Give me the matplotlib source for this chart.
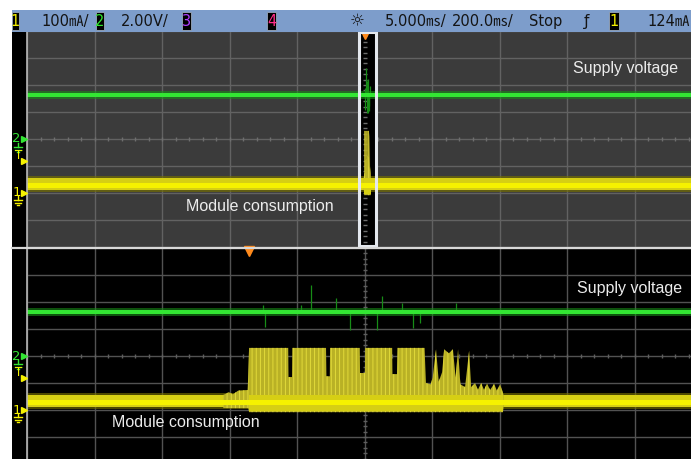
import numpy as np
import matplotlib
matplotlib.use("Agg")
import matplotlib.pyplot as plt
from matplotlib.ticker import MultipleLocator
from matplotlib.patches import Rectangle
from matplotlib.lines import Line2D

W, H = 691, 459

# ---- scope settings ----
ch1_per_div = 100.0      # mA/div
ch2_per_div = 2.0        # V/div
ch1_offset_div = -2.0    # ch1 ground position, divisions from centre
ch2_offset_div = 0.0     # ch2 ground position
main_per_div = 200.0     # ms/div (upper, main timebase)
zoom_per_div = 5.0       # ms/div (lower, zoomed timebase)
zoom_centre = 8.55       # ms after trigger at the centre of the zoom window
trig_level = 124.0       # mA

# ---- channel 2: supply voltage (V) ----
supply_v = 3.28
supply_core = 0.15
supply_halo = 0.30
spike_t = [1.04, 1.19, 3.85, 4.6, 6.44, 7.48, 9.48, 9.85, 11.33, 12.15, 12.67, 15.33]
spike_v = [3.78, 2.15, 3.78, 5.26, 4.3, 1.93, 1.93, 4.44, 3.93, 2.07, 2.44, 3.93]

# ---- channel 1: module consumption (mA) ----
idle_halo = [4, 62]
idle_band = [11, 55]
idle_core = [18, 37]
burst_t = [-1.9, -1.5, -1.2, -0.8, -0.1, 0.0, 2.9, 2.92, 3.18, 3.2, 5.7, 5.72,
           5.98, 6.0, 8.2, 8.22, 8.58, 8.6, 10.6, 10.62, 10.96, 11.0, 13.0,
           13.1, 13.45, 13.6, 13.85, 14.05, 14.3, 14.45, 14.8, 15.1, 15.3,
           15.48, 15.65, 16.0, 16.3, 16.45, 16.74, 16.95, 17.19, 17.4, 17.63,
           17.85, 18.15, 18.35, 18.59, 18.78, 18.85]
burst_top = [56, 66, 58, 72, 74, 230, 230, 122, 122, 230, 230, 125,
             125, 230, 230, 137, 137, 230, 230, 133, 133, 230, 230,
             100, 95, 120, 225, 105, 140, 225, 210, 225, 120,
             225, 95, 85, 220, 85, 100, 75, 100, 75, 98,
             74, 97, 72, 95, 68, 56]
burst_floor_t = [-1.9, -0.05, 0.0, 18.8, 18.85]
burst_floor = [7, 7, -8, -8, 7]
burst_core_t = [0.0, 18.8]
burst_core = [-4, 54]

# ---- colours ----
GREEN = "#33E633"
GREEN_DIM = "#178C17"
YEL_CORE = "#F6F200"
YEL_BAND = "#D6CF14"
YEL_BODY = "#B9B125"
YEL_STREAK = "#E2DA3A"
YEL_HALO = "#767000"
ORANGE = "#FF8A1C"

plt.rcParams["hatch.linewidth"] = 0.7

fig = plt.figure(figsize=(W / 100, H / 100), dpi=100)
fig.patch.set_facecolor("white")


def fxy(x, y):
    return x / W, 1 - y / H


panel_left, panel_right = 27, 691
px_per_div = 67.5
n_div_x = (panel_right - panel_left) / px_per_div


def make_panel(top, bot, face, grid_col, tick_col, centre, per_div):
    ax = fig.add_axes([panel_left / W, 1 - bot / H,
                       (panel_right - panel_left) / W, (bot - top) / H])
    ax.set_facecolor(face)
    ax.set_xlim(centre - 5 * per_div, centre + (n_div_x - 5) * per_div)
    ax.set_ylim((-4 - ch2_offset_div) * ch2_per_div, (4 - ch2_offset_div) * ch2_per_div)
    ax.xaxis.set_major_locator(MultipleLocator(per_div, offset=centre))
    ax.yaxis.set_major_locator(MultipleLocator(ch2_per_div))
    ax.set_axisbelow(True)
    ax.grid(True, color=grid_col, lw=1.0)
    ax.tick_params(length=0, labelleft=False, labelbottom=False)
    for s in ax.spines.values():
        s.set_visible(False)
    # fine tick marks along the two centre lines
    xt = centre + np.arange(-25, 26) * per_div / 5
    ax.plot(xt, np.zeros_like(xt), ls="none", marker="|", ms=3, color=tick_col,
            mew=1, zorder=1.2)
    yt = np.arange(-20, 21) * ch2_per_div / 5
    ax.plot(np.full_like(yt, centre), yt, ls="none", marker="_", ms=3, color=tick_col,
            mew=1, zorder=1.2)

    ax1 = ax.twinx()
    ax1.set_ylim((-4 - ch1_offset_div) * ch1_per_div, (4 - ch1_offset_div) * ch1_per_div)
    ax1.tick_params(length=0, labelright=False)
    for s in ax1.spines.values():
        s.set_visible(False)
    return ax, ax1


def draw_traces(ax, ax1):
    x0, x1 = ax.get_xlim()
    # channel 2
    ax.fill_between([x0, x1], supply_v - supply_halo, supply_v + supply_halo,
                    color=GREEN_DIM, alpha=0.6, lw=0, zorder=2)
    ax.vlines(spike_t, supply_v, spike_v, color=GREEN_DIM, lw=0.9, zorder=2.2)
    ax.fill_between([x0, x1], supply_v - supply_core, supply_v + supply_core,
                    color=GREEN, lw=0, zorder=2.5)
    # channel 1
    ax1.fill_between([x0, x1], *idle_halo, color=YEL_HALO, alpha=0.65, lw=0, zorder=2)
    ax1.fill_between([x0, x1], *idle_band, color=YEL_BAND, lw=0, zorder=2.1)
    ax1.fill(np.r_[burst_t, burst_floor_t[::-1]], np.r_[burst_top, burst_floor[::-1]],
             facecolor=YEL_BODY, edgecolor=YEL_STREAK, hatch="||||", lw=0, zorder=2.3)
    ax1.fill_between(burst_core_t, *burst_core, color=YEL_BAND, lw=0, zorder=2.4)
    ax1.fill_between([x0, x1], *idle_core, color=YEL_CORE, lw=0, zorder=2.5)


# ---- panels: main timebase above, zoomed timebase below ----
ax_u, ax_u1 = make_panel(31, 247, "#3B3B3B", "#626262", "#6E6E6E", 0.0, main_per_div)
ax_l, ax_l1 = make_panel(248, 464, "#000000", "#525252", "#5E5E5E", zoom_centre, zoom_per_div)

# zoom window on the main trace
zx0, zx1 = ax_l.get_xlim()
ax_u.add_patch(Rectangle((zx0, 0), zx1 - zx0, 1, transform=ax_u.get_xaxis_transform(),
                         facecolor="black", edgecolor="none", zorder=1.1))
draw_traces(ax_u, ax_u1)
draw_traces(ax_l, ax_l1)
ax_u1.add_patch(Rectangle((zx0, 0.004), zx1 - zx0, 0.99,
                          transform=ax_u1.get_xaxis_transform(), fill=False,
                          edgecolor="#E4E8EE", lw=2.2, zorder=10))

# trigger position markers
for a in (ax_u, ax_l):
    a.plot([0.0], [0.985], transform=a.get_xaxis_transform(), marker="v", ms=7,
           color=ORANGE, mec=ORANGE, clip_on=False, zorder=12)

# ---- frame pieces ----
fig.add_artist(Rectangle(fxy(12, 459), 15 / W, (459 - 31) / H, transform=fig.transFigure,
                         facecolor="black", edgecolor="none", zorder=0))
fig.add_artist(Line2D([27 / W, 27 / W], [0, 1 - 31 / H], transform=fig.transFigure,
                      color="#B8B8B8", lw=1.2, zorder=20))
fig.add_artist(Line2D([12 / W, 1], [1 - 248 / H, 1 - 248 / H], transform=fig.transFigure,
                      color="#D8D8D8", lw=1.6, zorder=20))

# header bar
fig.add_artist(Rectangle(fxy(12, 32), (W - 12) / W, 22 / H, transform=fig.transFigure,
                         facecolor="#7D9DCB", edgecolor="none", zorder=21))
HDR_FONT = ["DejaVu Sans", "Noto Sans CJK SC"]


def hdr_text(x, s, color="#141414", size=10.5):
    fig.text(*fxy(x, 21.5), s, color=color, fontsize=size, family=HDR_FONT,
             va="center", ha="left", zorder=22)


def chan_box(x0, x1, s, color):
    fig.add_artist(Rectangle(fxy(x0, 30), (x1 - x0) / W, 18 / H, transform=fig.transFigure,
                             facecolor="black", edgecolor="#9AA8BC", lw=0.6, zorder=22))
    fig.text(*fxy((x0 + x1) / 2, 21.5), s, color=color, fontsize=10.5, family=HDR_FONT,
             va="center", ha="center", zorder=23)


chan_box(12, 19, "1", "#F2EE00")
hdr_text(41, "100㎃/")
chan_box(96, 104, "2", "#2EE62E")
hdr_text(121, "2.00V/")
chan_box(182, 191, "3", "#B040FF")
chan_box(267, 276, "4", "#FF2E8A")
hdr_text(350, "☼", size=12)
hdr_text(385, "5.000㎳/")
hdr_text(452, "200.0㎳/")
hdr_text(529, "Stop")
hdr_text(584, "ƒ", size=11)
chan_box(609, 619, "1", "#F2EE00")
hdr_text(647, "124㎃")


# ---- channel / trigger markers in the left strip ----
def strip_marks(ax, ax1):
    def py(axis, v):
        return H - axis.transData.transform((0, v))[1]

    y2 = py(ax, 0.0)
    y1 = py(ax1, 0.0)
    yt = py(ax1, trig_level)

    def tri(y, col):
        fig.add_artist(Line2D([23.5 / W], [1 - y / H], transform=fig.transFigure,
                              marker=">", ms=5, color=col, mec=col, ls="none", zorder=22))

    def ground(x, y, col):
        for dy, hw in ((0, 4), (2.5, 2.6), (5, 1.2)):
            fig.add_artist(Line2D([(x - hw) / W, (x + hw) / W], [1 - (y + dy) / H] * 2,
                                  transform=fig.transFigure, color=col, lw=1, zorder=22))
        fig.add_artist(Line2D([x / W, x / W], [1 - (y - 4) / H, 1 - y / H],
                              transform=fig.transFigure, color=col, lw=1, zorder=22))

    fig.text(*fxy(16.5, y2), "2", color=GREEN, fontsize=9.5, ha="center", va="center", zorder=22)
    tri(y2, GREEN)
    ground(18, y2 + 8, GREEN)
    fig.text(*fxy(18.5, yt - 4), "T", color=YEL_CORE, fontsize=8.5, ha="center", va="center",
             zorder=22)
    tri(yt + 1, YEL_CORE)
    fig.text(*fxy(16.5, y1), "1", color=YEL_CORE, fontsize=9.5, ha="center", va="center",
             zorder=22)
    tri(y1, YEL_CORE)
    ground(18, y1 + 7, YEL_CORE)


strip_marks(ax_u, ax_u1)
strip_marks(ax_l, ax_l1)

# ---- annotations ----
LBL = dict(color="#ECECEC", fontsize=11.5, family=["Liberation Sans", "DejaVu Sans"],
           ha="left", va="center", zorder=25)
fig.text(*fxy(573, 69), "Supply voltage", **LBL)
fig.text(*fxy(186, 206), "Module consumption", **LBL)
fig.text(*fxy(577, 289), "Supply voltage", **LBL)
fig.text(*fxy(112, 422), "Module consumption", **LBL)

fig.savefig("out.png", dpi=100, facecolor=fig.get_facecolor())
